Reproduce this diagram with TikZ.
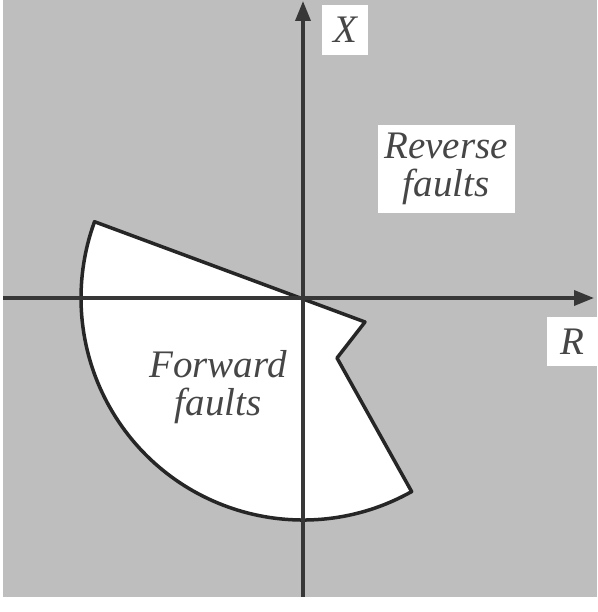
\documentclass[tikz,border=0pt]{standalone}
\usepackage{fontspec}
\setmainfont{Liberation Serif}
\usetikzlibrary{arrows.meta,calc}
\definecolor{bggray}{RGB}{190,190,190}
\definecolor{axisgray}{RGB}{55,55,55}
\definecolor{txtgray}{RGB}{70,70,70}
\begin{document}
\begin{tikzpicture}[x=1pt,y=1pt,
  axisline/.style={draw=axisgray,line width=3.5pt},
  faultline/.style={draw=black!85,line width=3.5pt,line join=round,fill=white},
  lbl/.style={font=\fontsize{39}{38}\selectfont\itshape,text=txtgray,align=center,inner sep=0pt},
  whitebox/.style={fill=white,inner sep=0pt}]
\useasboundingbox (0,0) rectangle (597,612);
\fill[bggray] (3,15) rectangle (597,612);
% key points
\coordinate (O) at (303,314);
\coordinate (A) at ($(O)+(159.9:222)$);
\coordinate (P1) at (365,290);
\coordinate (P2) at (337,254);
\coordinate (B) at ($(O)+(-60.7:222)$);
% forward fault region
\path[faultline] (A) -- (P1) -- (P2) -- (B) arc[start angle=-60.7,end angle=-200.1,radius=222] -- cycle;
% axes
\coordinate (ybot) at (303,15);
\coordinate (ytop) at (303,611);
\coordinate (xleft) at (3,314);
\coordinate (xright) at (594,314);
\draw[axisline,-{Triangle[length=20pt,width=15pt]}] (ybot) -- (ytop);
\draw[axisline,-{Triangle[length=20pt,width=15pt]}] (xleft) -- (xright);
% label boxes
\node[whitebox,minimum width=46pt,minimum height=50pt] (xbox) at (345,582) {};
\node[lbl] (xlab) at (xbox) {\textit{X}};
\node[whitebox,minimum width=50pt,minimum height=49pt] (rbox) at (572,270) {};
\node[lbl] (rlab) at (rbox) {\textit{R}};
\node[whitebox,minimum width=137pt,minimum height=88pt] (revbox) at (446,443) {};
\node[lbl] (rev) at (revbox) {Reverse\\faults};
\node[lbl] (fwd) at (218,225) {Forward\\faults};
\end{tikzpicture}
\end{document}
